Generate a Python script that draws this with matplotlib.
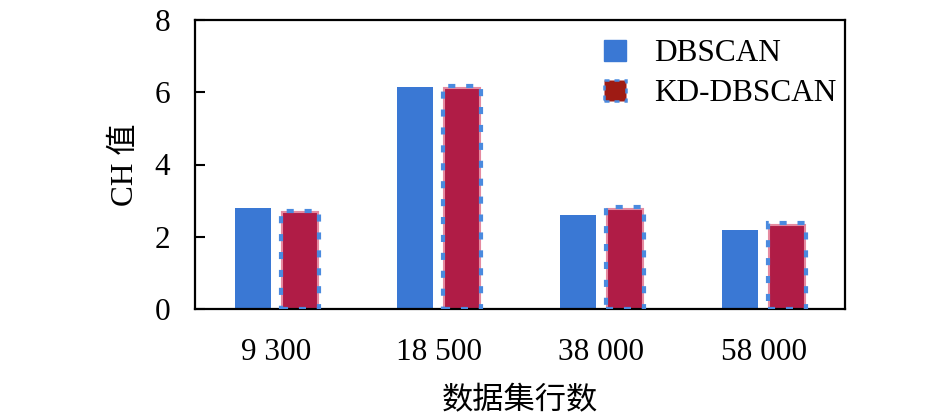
import matplotlib
matplotlib.use("Agg")
import matplotlib.pyplot as plt
import numpy as np
from matplotlib.patches import Patch

categories = ["9 300", "18 500", "38 000", "58 000"]
dbscan = [2.80, 6.15, 2.60, 2.20]
kd_dbscan = [2.68, 6.12, 2.77, 2.33]
yticks = [0, 2, 4, 6, 8]

serif = ["Liberation Serif", "Noto Sans CJK SC"]
cjk = ["Noto Sans CJK SC", "Liberation Serif"]
fs = 22.5

fig = plt.figure(figsize=(9.45, 4.17), dpi=100)
ax = fig.add_axes([195/945, 1-309/417, 650/945, 289/417])

x = np.arange(len(categories))
w = 0.22
off = 0.145
blue = "#3A78D4"
crimson = "#B01C46"
pink = "#E58AA0"
dblue = "#4A8ADF"

ax.bar(x - off, dbscan, w, color=blue, zorder=2)
ax.bar(x + off, kd_dbscan, w, color=crimson, edgecolor=pink, linewidth=1.5, zorder=2)
ax.bar(x + off, np.array(kd_dbscan) + 0.04, w * 1.07, fill=False, edgecolor=dblue,
       linewidth=3.0, linestyle=(0, (1.7, 2.6)), zorder=3)

ax.set_xlim(-0.5, 3.5)
ax.set_ylim(0, 8)
ax.set_yticks(yticks)
ax.set_yticklabels([str(t) for t in yticks], fontfamily=serif, fontsize=fs)
ax.set_xticks(x)
ax.set_xticklabels(categories, fontfamily=serif, fontsize=fs)
ax.tick_params(axis="y", direction="in", length=7, width=1.5, pad=18)
ax.tick_params(axis="x", length=0, pad=21)
for s in ax.spines.values():
    s.set_linewidth(1.6)
    s.set_color("black")

ax.set_ylabel("CH 值", fontfamily=serif, fontsize=fs, labelpad=10)
ax.set_xlabel("数据集行数", fontfamily=cjk, fontsize=fs, labelpad=12)

h1 = Patch(facecolor=blue, edgecolor=blue)
h2 = Patch(facecolor="#9E1B14", edgecolor=dblue, linestyle=(0, (2, 2)), linewidth=1.8)
leg = ax.legend([h1, h2], ["DBSCAN", "KD-DBSCAN"], loc="upper left",
                bbox_to_anchor=(0.586, 1.03), frameon=False,
                prop={"family": serif, "size": fs},
                handlelength=0.7, handleheight=0.7, handletextpad=0.9, labelspacing=0.35)

fig.savefig("out.png", dpi=100)
